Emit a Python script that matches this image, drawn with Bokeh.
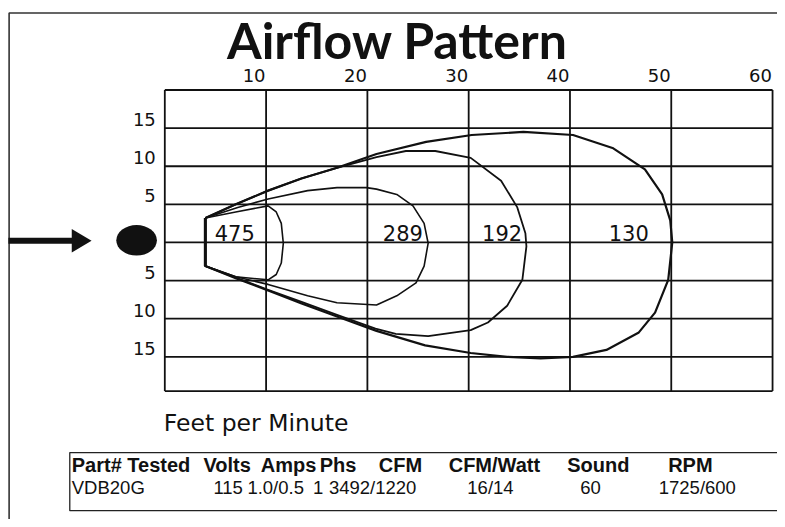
from bokeh.plotting import figure
from bokeh.models import Range1d
from bokeh.core.properties import value
from bokeh.embed import file_html
from bokeh.resources import INLINE

# ---------------- data ----------------
title_text = "Airflow Pattern"
x_ticks = [10, 20, 30, 40, 50, 60]
x_tick_labels = ["10", "20", "30", "40", "50", "60"]
y_ticks = [15, 10, 5, -5, -10, -15]
y_tick_labels = ["15", "10", "5", "5", "10", "15"]
grid_x = [0, 10, 20, 30, 40, 50, 60]
grid_y = [20, 15, 10, 5, 0, -5, -10, -15, -19.5]

# throw contours (feet downstream, feet across) and their velocities (fpm)
c475_x = [4.0, 7.0, 10.2, 11.0, 11.5, 11.7, 11.5, 11.0, 10.2, 7.0, 4.0, 4.0]
c475_y = [3.2, 4.0, 4.8, 4.0, 2.5, -0.1, -2.7, -4.2, -4.9, -4.5, -3.1, 3.2]

c289_x = [4.0, 7.2, 10.2, 14.1, 17.0, 19.9, 20.9, 22.9, 24.5, 25.6, 26.0, 25.6,
          24.8, 22.9, 20.9, 17.0, 14.1, 10.2, 7.0, 4.0, 4.0]
c289_y = [3.2, 4.6, 5.7, 6.8, 7.2, 7.2, 7.0, 6.3, 4.8, 2.5, -0.1, -3.1,
          -5.3, -7.0, -8.2, -7.9, -7.0, -5.5, -4.5, -3.1, 3.2]

c192_x = [4.0, 7.0, 10.2, 13.5, 17.0, 20.9, 23.8, 26.7, 30.2, 33.2, 34.8, 35.6,
          35.7, 35.3, 33.8, 31.9, 30.2, 26.0, 22.8, 20.8, 17.0, 13.5, 10.2, 7.0, 4.0, 4.0]
c192_y = [3.2, 5.0, 6.8, 8.4, 9.8, 11.2, 12.0, 12.0, 11.1, 8.1, 4.6, 1.2,
          -0.5, -4.9, -8.3, -10.5, -11.5, -12.3, -12.0, -11.3, -9.5, -7.8, -6.2, -4.6, -3.1, 3.2]

c130_x = [4.0, 7.0, 10.2, 13.5, 17.0, 20.9, 25.8, 30.3, 35.4, 40.3, 44.2, 47.4,
          49.1, 49.9, 50.1, 49.7, 48.4, 46.8, 43.6, 40.3, 37.1, 33.8, 30.2, 25.7,
          20.9, 17.0, 13.5, 10.2, 7.0, 4.0, 4.0]
c130_y = [3.2, 5.0, 6.8, 8.4, 9.8, 11.6, 13.2, 14.1, 14.5, 14.1, 12.4, 9.6,
          6.3, 2.9, 0.0, -4.9, -9.2, -11.8, -14.1, -15.0, -15.2, -15.0, -14.5, -13.5,
          -11.6, -9.7, -8.0, -6.3, -4.7, -3.1, 3.2]

contour_labels = ["475", "289", "192", "130"]
contour_label_x = [6.9, 23.5, 33.3, 45.8]

x_axis_title = "Feet per Minute"

table_headers = ["Part# Tested", "Volts", "Amps", "Phs", "CFM", "CFM/Watt", "Sound", "RPM"]
table_row = ["VDB20G", "115", "1.0/0.5", "1", "3492/1220", "16/14", "60", "1725/600"]

# ---------------- layout ----------------
W, H = 777, 519              # figure size in screen pixels
LW, LH = 785, 527            # layout coordinate space
grid_left_px, grid_right_px = 166, 780
center_px, px_per_5ft = 245.7, 38.7
sx = (grid_right_px - grid_left_px) / 60.0
sy = px_per_5ft / 5.0
fx0 = -grid_left_px / sx
fx1 = fx0 + LW / sx
fy1 = center_px / sy
fy0 = fy1 - LH / sy

p = figure(width=W, height=H, x_range=Range1d(0, LW), y_range=Range1d(LH, 0),
           x_axis_type=None, y_axis_type=None,
           output_backend="svg", toolbar_location=None, min_border=0)
p.outline_line_color = None
p.background_fill_color = "white"
p.border_fill_color = "white"
p.extra_x_ranges = {"ft_x": Range1d(fx0, fx1)}
p.extra_y_ranges = {"ft_y": Range1d(fy0, fy1)}
R = dict(x_range_name="ft_x", y_range_name="ft_y")

ink = "#111111"

# outer border (top + left)
p.line(x=[8.7, 8.7, LW], y=[LH, 12.7, 12.7], line_color="#333333", line_width=1.6)

# title
p.text(x=[401], y=[40], text=[title_text], text_font=value("Lato"), text_font_style="bold",
       text_font_size="50px", text_align="center", text_baseline="middle", text_color=ink)

# grid
p.segment(x0=grid_x, y0=[grid_y[-1]] * len(grid_x), x1=grid_x, y1=[grid_y[0]] * len(grid_x),
          line_color=ink, line_width=1.8, **R)
p.segment(x0=[grid_x[0]] * len(grid_y), y0=grid_y, x1=[grid_x[-1]] * len(grid_y), y1=grid_y,
          line_color=ink, line_width=1.8, **R)

# tick labels
p.text(x=x_ticks, y=[grid_y[0]] * len(x_ticks), text=x_tick_labels, x_offset=-12, y_offset=-8,
       text_font=value("DejaVu Sans"), text_font_size="18px", text_align="center",
       text_baseline="bottom", text_color=ink, **R)
p.text(x=[grid_x[0]] * len(y_ticks), y=y_ticks, text=y_tick_labels, x_offset=-9, y_offset=-2,
       text_font=value("DejaVu Sans"), text_font_size="18px", text_align="right",
       text_baseline="bottom", text_color=ink, **R)

# contours
for cx, cy, lw in [(c130_x, c130_y, 2.2), (c192_x, c192_y, 1.8),
                   (c289_x, c289_y, 1.6), (c475_x, c475_y, 1.6)]:
    p.line(x=cx, y=cy, line_color=ink, line_width=lw, line_join="round", **R)
p.line(x=[4.0, 4.0], y=[3.2, -3.1], line_color=ink, line_width=3, **R)

p.text(x=contour_label_x, y=[0] * len(contour_labels), text=contour_labels, y_offset=-1,
       text_font=value("DejaVu Sans"), text_font_size="21px", text_align="center",
       text_baseline="bottom", text_color=ink, **R)

# fan marker: arrow and dot (decorative)
p.quad(left=[8], right=[74], top=[241], bottom=[247], fill_color=ink, line_color=None)
p.patch(x=[72, 92, 72], y=[232, 244, 256], fill_color=ink, line_color=None)
p.ellipse(x=[137.5], y=[243.5], width=41, height=31, fill_color=ink, line_color=None)

# axis title
p.text(x=[165], y=[429.5], text=[x_axis_title], text_font=value("DejaVu Sans"),
       text_font_size="23.5px", text_align="left", text_baseline="middle", text_color=ink)

# spec table
p.line(x=[LW, 70, 70, LW], y=[459, 459, 518, 518], line_color="#222222", line_width=1.3)
head_x = [72, 229, 291, 341, 404, 499, 604, 697]
head_align = ["left"] + ["center"] * 7
row_x = [72, 230, 278, 321, 376, 495, 596, 704]
for i in range(len(table_headers)):
    p.text(x=[head_x[i]], y=[472], text=[table_headers[i]],
           text_font=value("Liberation Sans"),
           text_font_style="bold", text_font_size="20px", text_align=head_align[i],
           text_baseline="middle", text_color=ink)
    p.text(x=[row_x[i]], y=[495], text=[table_row[i]], text_font=value("Liberation Sans"),
           text_font_size="18.5px", text_align=head_align[i], text_baseline="middle",
           text_color=ink)

open("out.html", "w").write(file_html(p, INLINE))
